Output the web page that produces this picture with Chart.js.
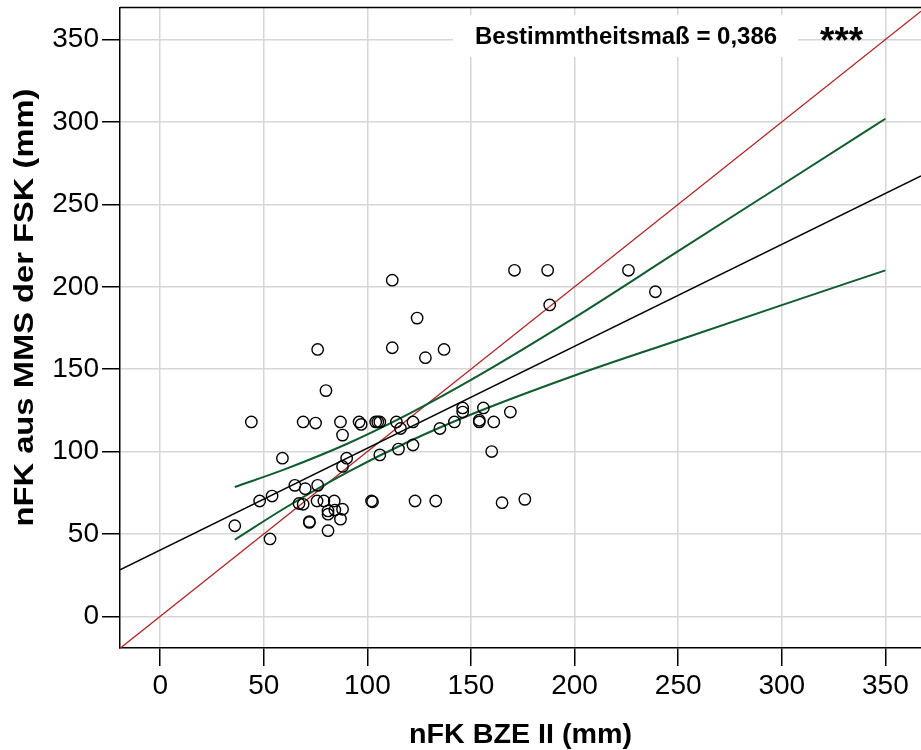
<!DOCTYPE html>
<html>
<head>
<meta charset="utf-8">
<script src="https://cdn.jsdelivr.net/npm/chart.js@4.4.1/dist/chart.umd.min.js"></script>
<style>
  html, body { margin: 0; padding: 0; background: #fff; }
  #wrap { width: 921px; height: 750px; }
</style>
</head>
<body>
<div id="wrap"><canvas id="chart" width="921" height="750"></canvas></div>
<script>
// measured points: nFK BZE II (x) vs nFK aus MMS der FSK (y)
const pointsX = [36, 44, 48, 53, 54, 59, 65, 67, 69, 69, 70, 72, 72, 75, 75.7, 76, 76, 79, 80, 81,
  81, 81, 84, 84.3, 87, 87, 88, 88, 88, 90, 96, 97, 102, 102.5, 104, 105, 106, 106, 112, 112,
  114, 115, 116, 122, 122, 123, 124, 128, 133, 135, 137, 142, 146, 146, 154, 154, 156, 160, 161, 165,
  169, 171, 176, 187, 188, 226, 239];
const pointsY = [55, 118, 70, 47, 73, 96, 79.5, 68.5, 68, 118, 77.5, 57, 57.5, 117.3, 70, 79.5, 162, 70, 137, 64,
  62, 52, 70, 64.5, 59, 118, 65, 110, 91, 96, 118, 116.5, 70, 69.5, 118, 118, 118, 98, 204, 163,
  118, 101.5, 114, 118, 104, 70, 181, 157, 70, 114, 162, 118, 126.5, 124, 119, 118, 126.5, 100, 118, 69,
  124, 210, 71, 210, 189, 210, 197];

// regression line (black) and 1:1 line (red)
const fitX = [-19.4, 367.2];
const fitY = [28.3, 267.3];
const idX = [-19.4, 367.2];
const idY = [-19.4, 367.2];

// confidence band (green)
const bandX = [36, 60, 90, 120, 150, 200, 250, 300, 350];
const bandUpper = [78.5, 89.2, 104.6, 122.9, 143.5, 181.3, 221.6, 261.8, 302];
const bandLower = [46.5, 65.6, 87.2, 106.1, 122.5, 146.2, 167.6, 188.9, 210];

const xTitle = 'nFK BZE II (mm)';
const yTitle = 'nFK aus MMS der FSK (mm)';
const r2Label = 'Bestimmtheitsmaß = 0,386';
const sigLabel = '***';

const FONT = '"Liberation Sans", Arial, Helvetica, sans-serif';

const pairs = (xs, ys) => xs.map((x, i) => ({ x, y: ys[i] }));

const extras = {
  id: 'extras',
  beforeDatasetsDraw(chart) {
    const ctx = chart.ctx;
    // white label box over the grid
    ctx.save();
    ctx.fillStyle = '#fff';
    ctx.fillRect(453, 15, 345, 42);
    ctx.restore();
  },
  afterDraw(chart) {
    const { ctx, chartArea } = chart;
    ctx.save();
    // top frame line
    ctx.strokeStyle = '#000';
    ctx.lineWidth = 1.5;
    ctx.beginPath();
    ctx.moveTo(chartArea.left, chartArea.top);
    ctx.lineTo(chartArea.right, chartArea.top);
    ctx.stroke();

    ctx.fillStyle = '#000';
    ctx.textBaseline = 'alphabetic';
    ctx.font = 'bold 24px ' + FONT;
    ctx.textAlign = 'left';
    ctx.fillText(r2Label, 475, 43.5);
    ctx.font = 'bold 37px ' + FONT;
    ctx.fillText(sigLabel, 820, 53);

    // axis titles
    ctx.font = 'bold 28px ' + FONT;
    ctx.textAlign = 'center';
    let w = ctx.measureText(xTitle).width;
    ctx.save();
    ctx.translate((chartArea.left + chartArea.right) / 2, 743);
    ctx.scale(223 / w, 1);
    ctx.fillText(xTitle, 0, 0);
    ctx.restore();

    ctx.translate(33, 307.5);
    ctx.rotate(-Math.PI / 2);
    w = ctx.measureText(yTitle).width;
    ctx.scale(438 / w, 1);
    ctx.fillText(yTitle, 0, 0);
    ctx.restore();
  }
};

const axisCommon = {
  type: 'linear',
  ticks: {
    stepSize: 50,
    includeBounds: false,
    color: '#000',
    padding: 3,
    font: { family: FONT, size: 28 }
  },
  grid: {
    color: '#d6d6d6',
    lineWidth: 1.5,
    tickColor: '#000',
    tickLength: 18,
    tickWidth: 1.5
  },
  border: { display: true, color: '#000', width: 1.5 }
};

new Chart(document.getElementById('chart'), {
  type: 'scatter',
  data: {
    datasets: [
      {
        label: 'Messwerte',
        data: pairs(pointsX, pointsY),
        pointRadius: 5.7,
        pointBorderWidth: 1.4,
        pointBorderColor: '#000',
        pointBackgroundColor: 'rgba(0,0,0,0)',
        showLine: false
      },
      {
        label: 'Regression',
        data: pairs(fitX, fitY),
        showLine: true,
        borderColor: '#000',
        borderWidth: 1.5,
        pointRadius: 0
      },
      {
        label: 'oberes KI',
        data: pairs(bandX, bandUpper),
        showLine: true,
        borderColor: '#0f5c2e',
        borderWidth: 2,
        pointRadius: 0,
        cubicInterpolationMode: 'monotone'
      },
      {
        label: 'unteres KI',
        data: pairs(bandX, bandLower),
        showLine: true,
        borderColor: '#0f5c2e',
        borderWidth: 2,
        pointRadius: 0,
        cubicInterpolationMode: 'monotone'
      },
      {
        label: '1:1',
        data: pairs(idX, idY),
        showLine: true,
        borderColor: '#b22222',
        borderWidth: 1.3,
        pointRadius: 0
      }
    ]
  },
  options: {
    responsive: false,
    animation: false,
    layout: { autoPadding: false, padding: { top: 7.5, right: 0, bottom: 0, left: 0 } },
    plugins: {
      legend: { display: false },
      tooltip: { enabled: false }
    },
    scales: {
      x: Object.assign({}, axisCommon, {
        min: -19.4,
        max: 367.2,
        afterFit: s => { s.height = 102; s.paddingLeft = 0; s.paddingRight = 0; }
      }),
      y: Object.assign({}, axisCommon, {
        min: -19.2,
        max: 369.5,
        afterFit: s => { s.width = 120; s.paddingTop = 0; s.paddingBottom = 0; }
      })
    }
  },
  plugins: [extras]
});
</script>
</body>
</html>
